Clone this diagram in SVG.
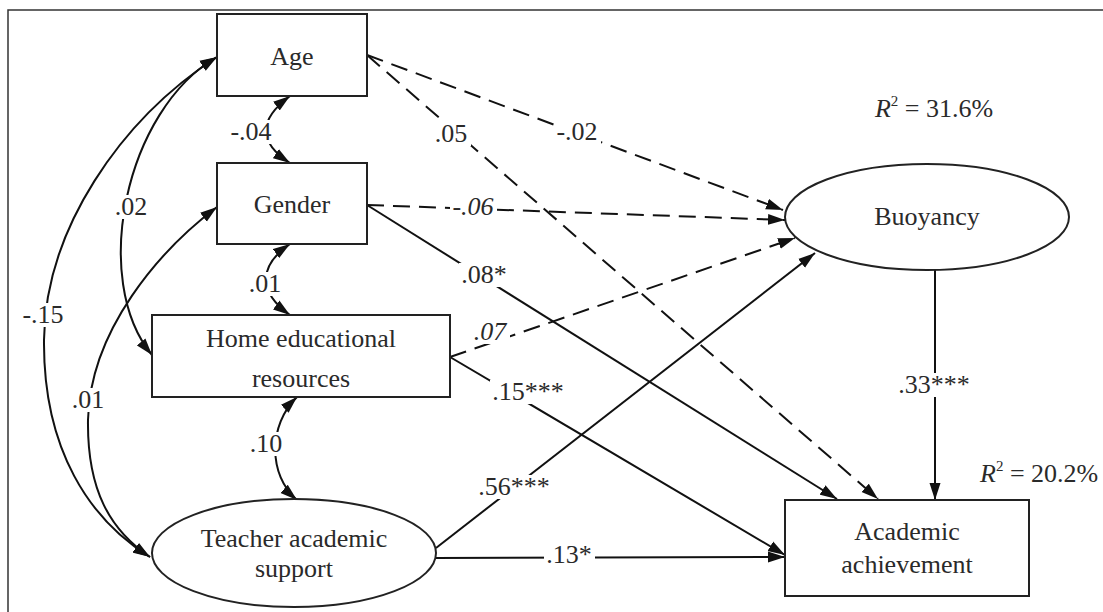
<svg xmlns="http://www.w3.org/2000/svg" width="1103" height="612" viewBox="0 0 1103 612">
<style>
.node{fill:#fff;stroke:#222;stroke-width:2}
.t{font-family:"Liberation Serif","Times New Roman",serif;font-size:26px;fill:#2a2a2a;text-anchor:middle}
.lbl{font-family:"Liberation Serif","Times New Roman",serif;font-size:26px;fill:#2a2a2a;text-anchor:middle}
.bg{fill:#fff;stroke:none}
.c{fill:none;stroke:#111;stroke-width:2}
.d{stroke-dasharray:17 9}
.a{marker-end:url(#ah)}
.bi{marker-start:url(#ah);marker-end:url(#ah)}
</style>
<defs>
<marker id="ah" markerUnits="userSpaceOnUse" markerWidth="18" markerHeight="12" viewBox="0 0 18 12" refX="17" refY="6" orient="auto-start-reverse">
<path d="M0,0.5 L17,6 L0,11.5 z" fill="#111"/>
</marker>
</defs>
<rect x="8" y="10" width="1110" height="620" fill="#fff" stroke="#333" stroke-width="1.5"/>

<g id="connectors">
<path class="c d a" d="M367 55 L783 210"/>
<path class="c d a" d="M367 55 L878 499"/>
<path class="c d a" d="M367 205 L785 220"/>
<path class="c a" d="M367 205 L837 499"/>
<path class="c d a" d="M450 357 L795 238"/>
<path class="c a" d="M450 357 L785 555"/>
<path class="c a" d="M436 548 L815 253"/>
<path class="c a" d="M436 558 L785 557"/>
<path class="c a" d="M935 270 L935 500"/>
<path class="c bi" d="M290 96 C258 120 258 142 290 163"/>
<path class="c bi" d="M290 244 C258 266 258 292 290 315"/>
<path class="c bi" d="M297 397 C268 425 268 475 297 500"/>
<path class="c bi" d="M217 57 C125 110 90 280 152 355"/>
<path class="c bi" d="M217 57 C120 120 45 230 44 340 C43 450 90 520 150 557"/>
<path class="c bi" d="M217 207 C160 250 90 330 88 420 C87 490 110 530 150 557"/>
<rect class="bg" x="228" y="120" width="47" height="24"/>
<rect class="bg" x="247" y="272" width="38" height="24"/>
<rect class="bg" x="248" y="432" width="38" height="24"/>
<rect class="bg" x="113" y="195" width="38" height="24"/>
<rect class="bg" x="20" y="303" width="47" height="24"/>
<rect class="bg" x="70" y="388" width="38" height="24"/>
<rect class="bg" x="554" y="120" width="47" height="24"/>
<rect class="bg" x="433" y="122" width="38" height="24"/>
<rect class="bg" x="450" y="195" width="47" height="24"/>
<rect class="bg" x="459" y="263" width="51" height="24"/>
<rect class="bg" x="472" y="320" width="38" height="24"/>
<rect class="bg" x="490" y="380" width="77" height="24"/>
<rect class="bg" x="476" y="475" width="77" height="24"/>
<rect class="bg" x="544" y="543" width="51" height="24"/>
<rect class="bg" x="896" y="373" width="77" height="24"/>
<text class="lbl" x="251" y="140">-.04</text>
<text class="lbl" x="265" y="292">.01</text>
<text class="lbl" x="266" y="452">.10</text>
<text class="lbl" x="131" y="215">.02</text>
<text class="lbl" x="43" y="323">-.15</text>
<text class="lbl" x="88" y="408">.01</text>
<text class="lbl" x="577" y="140">-.02</text>
<text class="lbl" x="451" y="142">.05</text>
<text class="lbl" x="473" y="215" font-style="italic">-.06</text>
<text class="lbl" x="484" y="283">.08*</text>
<text class="lbl" x="490" y="340" font-style="italic">.07</text>
<text class="lbl" x="528" y="400">.15***</text>
<text class="lbl" x="514" y="495">.56***</text>
<text class="lbl" x="569" y="563">.13*</text>
<text class="lbl" x="934" y="393">.33***</text>
</g>

<g id="age">
<rect class="node" x="217" y="14" width="150" height="82"/>
<text class="t" x="292" y="65">Age</text>
</g>
<g id="gender">
<rect class="node" x="217" y="163" width="150" height="81"/>
<text class="t" x="292" y="213">Gender</text>
</g>
<g id="home">
<rect class="node" x="152" y="315" width="298" height="82"/>
<text class="t" x="301" y="347">Home educational</text>
<text class="t" x="301" y="387">resources</text>
</g>
<g id="teacher">
<ellipse class="node" cx="294" cy="553" rx="142" ry="54"/>
<text class="t" x="294" y="547">Teacher academic</text>
<text class="t" x="294" y="577">support</text>
</g>
<g id="buoyancy">
<ellipse class="node" cx="927" cy="217" rx="142" ry="53"/>
<text class="t" x="927" y="225">Buoyancy</text>
</g>
<g id="achievement">
<rect class="node" x="785" y="500" width="244" height="96"/>
<text class="t" x="907" y="540">Academic</text>
<text class="t" x="907" y="573">achievement</text>
</g>
<g id="r2">
<text class="t" x="934" y="117"><tspan font-style="italic">R</tspan><tspan font-size="15" dy="-11">2</tspan><tspan dy="11"> = 31.6%</tspan></text>
<text class="t" x="980" y="482" style="text-anchor:start"><tspan font-style="italic">R</tspan><tspan font-size="15" dy="-11">2</tspan><tspan dy="11"> = 20.2%</tspan></text>
</g>
</svg>
